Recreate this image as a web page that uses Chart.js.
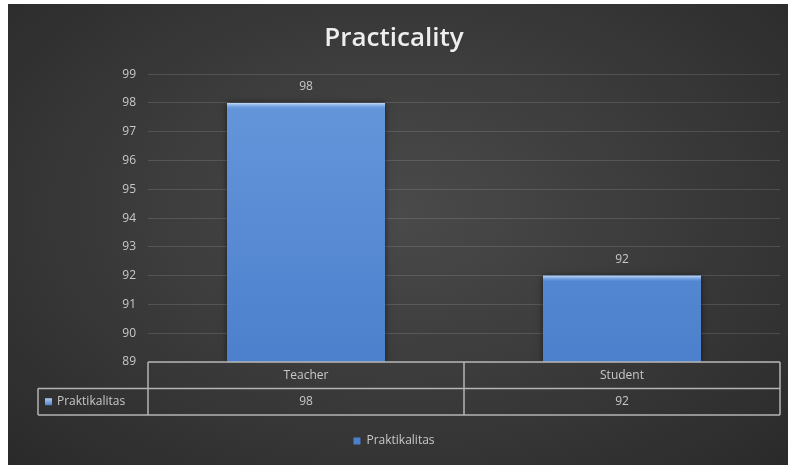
<!DOCTYPE html>
<html>
<head>
<meta charset="utf-8">
<script src="https://cdn.jsdelivr.net/npm/chart.js@4/dist/chart.umd.min.js"></script>
<style>
  html, body { margin: 0; padding: 0; background: #fff; }
  #wrap {
    position: absolute; left: 8px; top: 4px; width: 780px; height: 461px;
    background: radial-gradient(ellipse at 50% 45%, #4a4a4a 0%, #3c3c3c 45%, #2a2a2a 100%);
  }
</style>
</head>
<body>
<div id="wrap"><canvas id="chart" width="780" height="461"></canvas></div>
<script>
const categories = ["Teacher", "Student"];
const seriesName = "Praktikalitas";
const values = [98, 92];
const yTicks = [89, 90, 91, 92, 93, 94, 95, 96, 97, 98, 99];

const textColor = "#c8c8c8";
const fontFamily = "'Open Sans', 'Noto Sans', sans-serif";

/* tabel data di bawah sumbu x */
const dataTable = {
    id: "dataTable",
    afterDraw(chart) {
        const ctx = chart.ctx;
        const x = chart.scales.x;
        const rowH = 26.5;
        const top = x.top;
        const mid = top + rowH;
        const bottom = mid + rowH;
        const leftCell = 30;
        const catW = (x.right - x.left) / categories.length;

        ctx.save();
        ctx.strokeStyle = "#b4b4b4";
        ctx.lineWidth = 1.5;
        ctx.beginPath();
        ctx.moveTo(x.left, top); ctx.lineTo(x.right, top);
        ctx.moveTo(leftCell, mid); ctx.lineTo(x.right, mid);
        ctx.moveTo(leftCell, bottom); ctx.lineTo(x.right, bottom);
        ctx.moveTo(leftCell, mid); ctx.lineTo(leftCell, bottom);
        for (let i = 0; i <= categories.length; i++) {
            const px = x.left + catW * i;
            ctx.moveTo(px, top); ctx.lineTo(px, bottom);
        }
        ctx.stroke();

        ctx.fillStyle = textColor;
        ctx.font = "12px " + fontFamily;
        ctx.textAlign = "center";
        ctx.textBaseline = "middle";
        categories.forEach((c, i) => {
            const px = x.getPixelForValue(i);
            ctx.fillText(c, px, top + rowH / 2);
            ctx.fillText(String(values[i]), px, mid + rowH / 2);
        });

        // penanda seri
        const g = ctx.createLinearGradient(0, mid + 9, 0, mid + 17);
        g.addColorStop(0, "#b8d4f6");
        g.addColorStop(1, "#4a7fcc");
        ctx.fillStyle = g;
        ctx.fillRect(leftCell + 7, mid + rowH / 2 - 3.5, 7, 7);
        ctx.fillStyle = textColor;
        ctx.textAlign = "left";
        ctx.fillText(seriesName, leftCell + 19, mid + rowH / 2);
        ctx.restore();
    }
};

/* label nilai dan kilau atas batang */
const barExtras = {
    id: "barExtras",
    beforeDatasetsDraw(chart) {
        const ctx = chart.ctx;
        const area = chart.chartArea;
        ctx.save();
        ctx.beginPath();
        ctx.rect(area.left, area.top - 10, area.right - area.left, area.bottom - area.top + 10);
        ctx.clip();
        ctx.shadowColor = "rgba(0,0,0,0.55)";
        ctx.shadowBlur = 6;
        chart.getDatasetMeta(0).data.forEach(bar => {
            ctx.fillStyle = "#3a66a8";
            ctx.fillRect(bar.x - bar.width / 2, bar.y, bar.width, area.bottom - bar.y);
        });
        ctx.restore();
    },
    afterDatasetsDraw(chart) {
        const ctx = chart.ctx;
        ctx.save();
        chart.getDatasetMeta(0).data.forEach((bar, i) => {
            const l = bar.x - bar.width / 2;
            const g = ctx.createLinearGradient(0, bar.y, 0, bar.y + 6);
            g.addColorStop(0, "#c4dcf8");
            g.addColorStop(1, "rgba(110,160,225,0)");
            ctx.fillStyle = g;
            ctx.fillRect(l, bar.y, bar.width, 6);

            ctx.fillStyle = textColor;
            ctx.font = "12px " + fontFamily;
            ctx.textAlign = "center";
            ctx.textBaseline = "middle";
            ctx.fillText(String(values[i]), bar.x, bar.y - 16);
        });
        ctx.restore();
    }
};

new Chart(document.getElementById("chart"), {
    type: "bar",
    data: {
        labels: categories,
        datasets: [{
            label: seriesName,
            data: values,
            backgroundColor(c) {
                const area = c.chart.chartArea;
                if (!area) return "#5a8dd6";
                const g = c.chart.ctx.createLinearGradient(0, area.top, 0, area.bottom);
                g.addColorStop(0, "#6698dc");
                g.addColorStop(1, "#4c80cc");
                return g;
            },
            borderWidth: 0,
            categoryPercentage: 1,
            barPercentage: 0.5
        }]
    },
    options: {
        responsive: false,
        animation: false,
        layout: { padding: { top: 8, right: 8, bottom: 8, left: 0 } },
        plugins: {
            title: {
                display: true,
                text: "Practicality",
                color: "#eeeeee",
                font: { family: fontFamily, size: 26, weight: 600 },
                padding: { top: 11, bottom: 20 }
            },
            legend: {
                position: "bottom",
                labels: {
                    color: textColor,
                    font: { family: fontFamily, size: 12 },
                    boxWidth: 7,
                    boxHeight: 7,
                    padding: 10
                }
            },
            tooltip: { enabled: false }
        },
        scales: {
            x: {
                grid: { display: false },
                border: { display: false },
                ticks: { display: false },
                afterFit(s) { s.height = 63; }
            },
            y: {
                min: yTicks[0],
                max: yTicks[yTicks.length - 1],
                ticks: {
                    stepSize: 1,
                    color: textColor,
                    font: { family: fontFamily, size: 12 },
                    padding: 12
                },
                grid: { color: "rgba(255,255,255,0.13)", drawTicks: false },
                border: { display: false },
                afterFit(s) { s.width = 140; }
            }
        }
    },
    plugins: [dataTable, barExtras]
});
</script>
</body>
</html>
